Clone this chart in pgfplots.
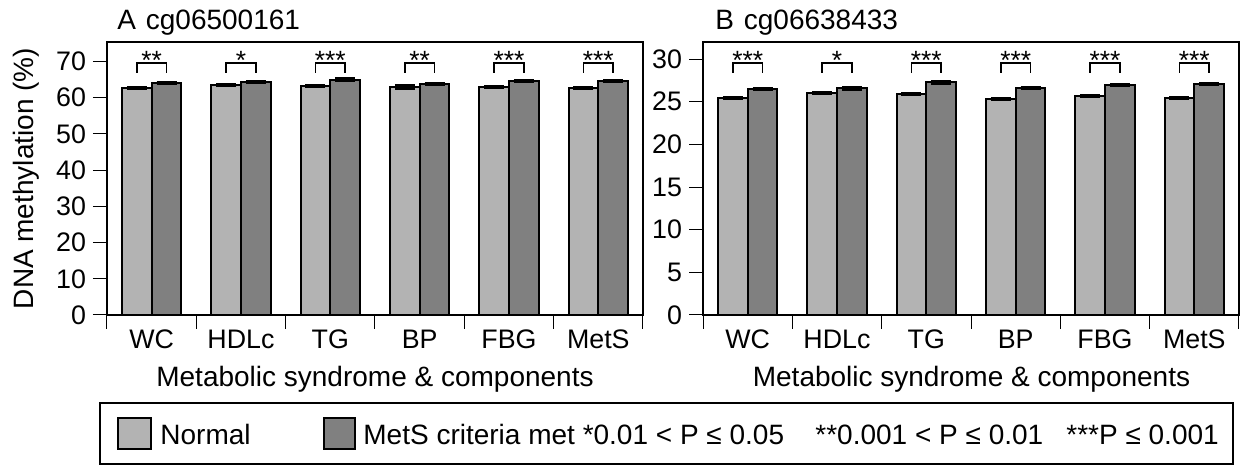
\documentclass[border=0pt]{standalone}
\usepackage{fontspec}
\setmainfont{Liberation Sans}
\usepackage{pgfplots}
\usepackage{pgfplotstable}
\pgfplotsset{compat=1.18}

\definecolor{normalgray}{RGB}{179,179,179}
\definecolor{metsgray}{RGB}{128,128,128}

% cg06500161: x = bar centre, mean methylation, error
\pgfplotstableread{
x y err
0.3333 62.75 0.15
1.3333 63.50 0.15
2.3333 63.30 0.12
3.3333 63.00 0.35
4.3333 62.90 0.12
5.3333 62.75 0.12
}\Anormal
\pgfplotstableread{
x y err
0.6667 64.15 0.15
1.6667 64.40 0.15
2.6667 65.00 0.20
3.6667 63.90 0.15
4.6667 64.70 0.15
5.6667 64.70 0.15
}\Amets
% cg06638433
\pgfplotstableread{
x y err
0.3333 25.47 0.07
1.3333 25.98 0.06
2.3333 25.90 0.05
3.3333 25.35 0.08
4.3333 25.70 0.06
5.3333 25.47 0.06
}\Bnormal
\pgfplotstableread{
x y err
0.6667 26.53 0.07
1.6667 26.57 0.08
2.6667 27.28 0.10
3.6667 26.57 0.06
4.6667 26.93 0.08
5.6667 27.09 0.08
}\Bmets

\pgfplotsset{
  panel/.style={
    scale only axis, width=268pt, height=136.5pt, anchor=south west,
    xmin=0, xmax=6, ymin=0,
    ybar, bar width=0.3333,
    axis line style={line width=1pt},
    tick align=outside, xtick pos=left, ytick pos=left,
    major tick length=7pt, tick style={line width=0.5pt, black},
    xtick={0,...,6}, xticklabels={},
    extra x ticks={0.5,1.5,2.5,3.5,4.5,5.5},
    extra x tick labels={WC,HDLc,TG,BP,FBG,MetS},
    extra x tick style={major tick length=0pt, xticklabel style={yshift=-4pt}},
    tick label style={font=\fontsize{13.4}{15}\selectfont},
    /pgf/number format/assume math mode=true,
    clip=false,
  },
  bars/.style={draw=black, line width=1pt, bar shift=0pt,
    error bars/.cd, y dir=both, y explicit, error mark=|,
    error bar style={line width=0.6pt, black},
    error mark options={line width=1.5pt, mark size=5pt, black}},
}
\tikzset{sigstar/.style={anchor=base, inner sep=0pt, font=\fontsize{13.2}{15}\selectfont}}

\begin{document}
\begin{tikzpicture}[font=\fontsize{14}{16}\selectfont]
\path[use as bounding box] (0,0) rectangle (621.5pt,233pt);

% Panel A
\begin{axis}[panel, at={(53.5pt,75.5pt)}, ymax=75.4, ytick={0,10,...,70}]
\addplot[fill=normalgray, bars] table[x=x, y=y, y error=err] {\Anormal};
\addplot[fill=metsgray, bars] table[x=x, y=y, y error=err] {\Amets};
\pgfplotsinvokeforeach{0,...,5}{
  \draw[line width=0.9pt] (axis cs:#1+0.3333,66.9) |- (axis cs:#1+0.6667,69.7) -- (axis cs:#1+0.6667,66.9);
}
\node[sigstar] at (axis cs:0.5,67.9) {**};
\node[sigstar] at (axis cs:1.5,67.9) {*};
\node[sigstar] at (axis cs:2.5,67.9) {***};
\node[sigstar] at (axis cs:3.5,67.9) {**};
\node[sigstar] at (axis cs:4.5,67.9) {***};
\node[sigstar] at (axis cs:5.5,67.9) {***};
\end{axis}

% Panel B
\begin{axis}[panel, at={(351.5pt,75.5pt)}, ymax=32, ytick={0,5,...,30}]
\addplot[fill=normalgray, bars] table[x=x, y=y, y error=err] {\Bnormal};
\addplot[fill=metsgray, bars] table[x=x, y=y, y error=err] {\Bmets};
\pgfplotsinvokeforeach{0,...,5}{
  \draw[line width=0.9pt] (axis cs:#1+0.3333,28.4) |- (axis cs:#1+0.6667,29.58) -- (axis cs:#1+0.6667,28.4);
}
\node[sigstar] at (axis cs:0.5,28.77) {***};
\node[sigstar] at (axis cs:1.5,28.77) {*};
\node[sigstar] at (axis cs:2.5,28.77) {***};
\node[sigstar] at (axis cs:3.5,28.77) {***};
\node[sigstar] at (axis cs:4.5,28.77) {***};
\node[sigstar] at (axis cs:5.5,28.77) {***};
\end{axis}

% titles and axis labels
\node[anchor=base west, inner sep=0pt] at (58.5pt,218.3pt) {A\hspace{0.35em}cg06500161};
\node[anchor=base west, inner sep=0pt] at (357.5pt,218.3pt) {B\hspace{0.35em}cg06638433};
\node[rotate=90, anchor=base, inner sep=0pt] at (16.5pt,143.75pt) {DNA methylation (\%)};
\node[anchor=base, inner sep=0pt] at (187.5pt,39.5pt) {Metabolic syndrome \& components};
\node[anchor=base, inner sep=0pt] at (485.75pt,39.5pt) {Metabolic syndrome \& components};

% legend
\draw[line width=0.8pt] (50pt,1pt) rectangle (616.5pt,31.5pt);
\draw[line width=0.8pt, fill=normalgray] (59pt,8.5pt) rectangle (75.5pt,24pt);
\node[anchor=base west, inner sep=0pt] at (80pt,10.5pt) {Normal};
\draw[line width=0.8pt, fill=metsgray] (162pt,8.5pt) rectangle (177.5pt,24pt);
\node[anchor=base west, inner sep=0pt] at (181.5pt,10.5pt) {MetS criteria met *0.01 < P ≤ 0.05};
\node[anchor=base west, inner sep=0pt] at (407.5pt,10.5pt) {**0.001 < P ≤ 0.01};
\node[anchor=base west, inner sep=0pt] at (533pt,10.5pt) {***P ≤ 0.001};
\end{tikzpicture}
\end{document}
